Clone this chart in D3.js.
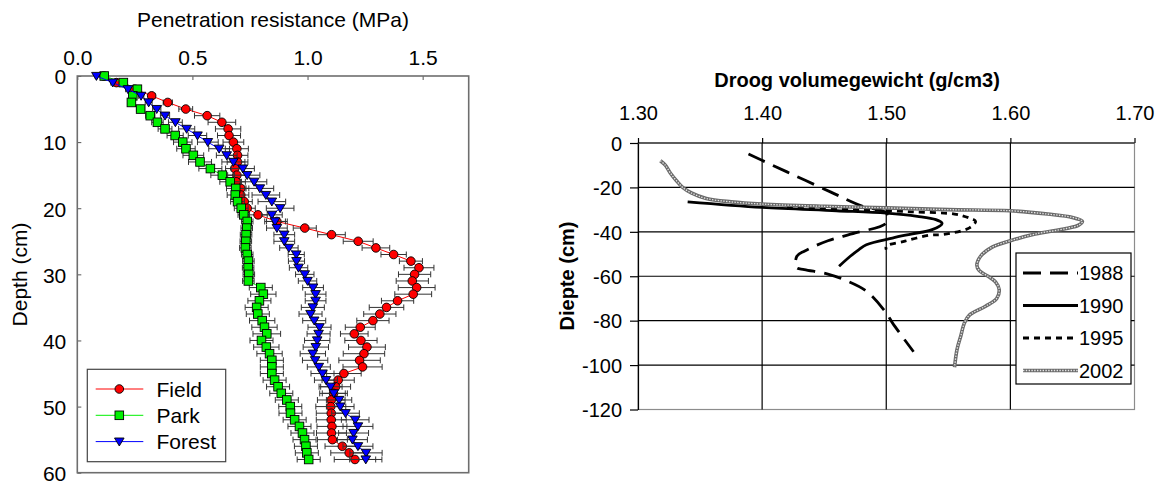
<!DOCTYPE html>
<html>
<head>
<meta charset="utf-8">
<script src="https://cdn.jsdelivr.net/npm/d3@7"></script>
<style>
body { margin: 0; background: #fff; }
text { font-family: "Liberation Sans", Arial, sans-serif; }
</style>
</head>
<body>
<svg id="chart"></svg>
<script>
var width = 1161, height = 483;

// ---- left panel: penetration resistance, one reading per cm ----
var depths = [0,1,2,3,4,5,6,7,8,9,10,11,12,13,14,15,16,17,18,19,20,21,22,23,24,25,26,27,28,29,
  30,31,32,33,34,35,36,37,38,39,40,41,42,43,44,45,46,47,48,49,50,51,52,53,54,55,56,57,58];

var fieldVals = [0.115,0.17,0.25,0.323,0.393,0.471,0.564,0.628,0.655,0.659,
  0.678,0.693,0.696,0.696,0.684,0.693,0.69,0.71,0.71,0.725,
  0.738,0.785,0.867,0.988,1.104,1.22,1.297,1.374,1.449,1.484,
  1.465,1.455,1.474,1.459,1.391,1.343,1.314,1.284,1.229,1.203,
  1.232,1.258,1.245,1.226,1.239,1.158,1.133,1.122,1.113,1.103,
  1.101,1.103,1.103,1.106,1.104,1.108,1.151,1.181,1.206];
var parkVals = [0.117,0.2,0.261,0.241,0.235,0.275,0.317,0.348,0.381,0.425,
  0.458,0.472,0.504,0.533,0.578,0.63,0.664,0.688,0.686,0.696,
  0.712,0.723,0.738,0.736,0.733,0.732,0.73,0.738,0.743,0.742,
  0.745,0.743,0.797,0.808,0.791,0.779,0.784,0.803,0.813,0.823,
  0.8,0.821,0.835,0.845,0.845,0.845,0.857,0.872,0.886,0.91,
  0.925,0.926,0.944,0.965,0.978,0.987,0.993,0.997,1.005];
var forestVals = [0.083,0.154,0.22,0.277,0.31,0.345,0.381,0.426,0.475,0.522,
  0.567,0.616,0.649,0.678,0.719,0.738,0.768,0.793,0.819,0.845,
  0.881,0.845,0.859,0.867,0.899,0.899,0.919,0.951,0.952,0.961,
  0.988,1.0,1.024,1.035,1.035,1.023,1.013,1.029,1.052,1.048,
  1.042,1.036,1.023,1.033,1.049,1.065,1.08,1.1,1.114,1.137,
  1.142,1.165,1.207,1.219,1.2,1.195,1.219,1.254,1.253];

var fieldErr = [0.005,0.008,0.01,0.015,0.02,0.03,0.055,0.06,0.055,0.05,
  0.045,0.05,0.045,0.045,0.04,0.04,0.04,0.035,0.035,0.035,
  0.035,0.04,0.045,0.05,0.06,0.065,0.06,0.055,0.05,0.065,
  0.07,0.07,0.08,0.08,0.07,0.075,0.07,0.07,0.065,0.06,
  0.07,0.08,0.09,0.09,0.085,0.075,0.07,0.065,0.06,0.06,
  0.065,0.065,0.065,0.065,0.065,0.065,0.075,0.08,0.09];
var parkErr = [0.005,0.008,0.01,0.012,0.015,0.018,0.02,0.025,0.03,0.035,
  0.04,0.04,0.045,0.05,0.05,0.05,0.045,0.04,0.035,0.03,
  0.03,0.025,0.025,0.025,0.025,0.025,0.025,0.025,0.025,0.025,
  0.025,0.025,0.05,0.055,0.05,0.05,0.05,0.055,0.055,0.06,
  0.05,0.055,0.055,0.05,0.05,0.05,0.05,0.05,0.05,0.05,
  0.05,0.05,0.05,0.05,0.05,0.05,0.05,0.05,0.05];
var forestErr = [0.005,0.008,0.01,0.012,0.015,0.018,0.02,0.03,0.035,0.04,
  0.045,0.045,0.045,0.05,0.05,0.055,0.055,0.06,0.06,0.06,
  0.06,0.045,0.045,0.045,0.045,0.045,0.04,0.035,0.035,0.04,
  0.04,0.04,0.045,0.045,0.045,0.05,0.05,0.05,0.05,0.05,
  0.055,0.055,0.055,0.055,0.05,0.05,0.05,0.05,0.05,0.055,
  0.06,0.06,0.06,0.065,0.065,0.065,0.065,0.07,0.07];

var leftXTicks = [0, 0.5, 1.0, 1.5];
var leftYTicks = [0, 10, 20, 30, 40, 50, 60];

// ---- right panel: dry bulk density profiles ----
var years = ["1988", "1990", "1995", "2002"];
var dens1988 = [1.389,1.42,1.455,1.481,1.50,1.50,1.475,1.453,1.434,1.428,1.4275,1.434,1.453,1.468,1.484,1.50,1.505,1.522];
var depth1988 = [-5,-13,-22,-28.5,-31.5,-36,-40.5,-44,-48.7,-51,-56,-57,-59,-62,-66.7,-76.5,-81,-94];
var dens1990 = [1.34,1.40,1.46,1.50,1.525,1.54,1.545,1.537,1.52,1.505,1.484,1.478,1.471,1.462];
var depth1990 = [-26.5,-29,-30.5,-31.6,-33,-34.5,-36.2,-39,-41,-42.8,-45.8,-48,-51,-55.5];
var dens1995 = [1.42,1.48,1.52,1.555,1.567,1.572,1.567,1.546,1.535,1.515,1.50,1.50];
var depth1995 = [-29,-30,-31,-32,-33.8,-35.3,-38.2,-41.2,-41.5,-44.2,-46.5,-48];
var dens2002 = [1.318,1.322,1.326,1.331,1.336,1.343,1.355,1.375,1.40,1.45,1.50,1.55,1.60,1.63,1.65,1.658,
  1.655,1.645,1.62,1.60,1.585,1.576,1.573,1.575,1.582,1.588,1.591,1.589,1.58,1.567,1.563,1.56,1.557,1.555];
var depth2002 = [-8,-10,-13.5,-17,-20,-22.5,-25,-26.5,-27.5,-28.5,-29.2,-30,-30.5,-32,-33.5,-35.3,
  -37,-38.5,-41,-44,-47,-51,-55,-57.5,-60,-62.5,-66,-70,-73.5,-77.5,-81,-87,-93,-101];

var rightXTicks = [1.30, 1.40, 1.50, 1.60, 1.70];
var rightYTicks = [0, -20, -40, -60, -80, -100, -120];

var svg = d3.select("#chart").attr("width", width).attr("height", height)
  .style("background", "#fff");

// ======================= LEFT PANEL =======================
var xL = d3.scaleLinear().domain([0, 1.7]).range([77.3, 468.7]);
var yL = d3.scaleLinear().domain([0, 60]).range([76, 472.7]);
var fsL = 21;

svg.append("text").attr("x", 273).attr("y", 26.5).attr("text-anchor", "middle")
  .style("font-size", fsL + "px").text("Penetration resistance (MPa)");
svg.append("text").attr("transform", "translate(27,274.5)rotate(-90)").attr("text-anchor", "middle")
  .style("font-size", fsL + "px").text("Depth (cm)");

var gxL = svg.append("g").attr("transform", "translate(0,76)")
  .call(d3.axisTop(xL).tickValues(leftXTicks).tickFormat(d3.format(".1f")).tickSizeInner(-4).tickSizeOuter(0).tickPadding(11));
var gyL = svg.append("g").attr("transform", "translate(77.3,0)")
  .call(d3.axisLeft(yL).tickValues(leftYTicks).tickFormat(d3.format("d")).tickSizeInner(-4).tickSizeOuter(0).tickPadding(11));
[gxL, gyL].forEach(function (g) {
  g.select(".domain").remove();
  g.selectAll("line").attr("stroke", "#555");
  g.selectAll("text").style("font-size", fsL + "px").attr("fill", "#000").style("font-family", "'Liberation Sans', Arial, sans-serif");
});
gyL.selectAll("text").attr("dy", "0.37em");

// plot frame
svg.append("rect").attr("x", xL(0)).attr("y", yL(0))
  .attr("width", xL(1.7) - xL(0)).attr("height", yL(60) - yL(0))
  .attr("fill", "none").attr("stroke", "#6e6e6e").attr("stroke-width", 1.6);

var leftSeries = [
  { name: "Field", vals: fieldVals, err: fieldErr, color: "#ff0000", shape: "circle" },
  { name: "Park", vals: parkVals, err: parkErr, color: "#00f000", shape: "square" },
  { name: "Forest", vals: forestVals, err: forestErr, color: "#0000ff", shape: "triangle" }
];

function drawMarker(g, shape, color, cx, cy) {
  if (shape === "circle") {
    g.append("circle").attr("cx", cx).attr("cy", cy).attr("r", 4.3)
      .attr("fill", color).attr("stroke", "#000").attr("stroke-width", 0.9);
  } else if (shape === "square") {
    g.append("rect").attr("x", cx - 4.3).attr("y", cy - 4.3).attr("width", 8.6).attr("height", 8.6)
      .attr("fill", color).attr("stroke", "#000").attr("stroke-width", 0.9);
  } else {
    g.append("path").attr("d", "M" + (cx - 4.8) + "," + (cy - 3.6) + "L" + (cx + 4.8) + "," + (cy - 3.6) + "L" + cx + "," + (cy + 4.4) + "Z")
      .attr("fill", color).attr("stroke", "#000").attr("stroke-width", 0.9);
  }
}

var lineL = d3.line().x(function (d) { return xL(d[0]); }).y(function (d) { return yL(d[1]); });

leftSeries.forEach(function (s) {
  var pts = depths.map(function (dp, i) { return [s.vals[i], dp, s.err[i]]; });
  var g = svg.append("g");
  g.append("path").datum(pts).attr("d", lineL).attr("fill", "none")
    .attr("stroke", s.color).attr("stroke-width", 1);
  var eb = g.append("g").attr("stroke", "#333").attr("stroke-width", 1);
  pts.forEach(function (p) {
    var y = yL(p[1]), x0 = xL(p[0] - p[2]), x1 = xL(p[0] + p[2]);
    eb.append("line").attr("x1", x0).attr("x2", x1).attr("y1", y).attr("y2", y);
    eb.append("line").attr("x1", x0).attr("x2", x0).attr("y1", y - 3).attr("y2", y + 3);
    eb.append("line").attr("x1", x1).attr("x2", x1).attr("y1", y - 3).attr("y2", y + 3);
  });
  pts.forEach(function (p) { drawMarker(g, s.shape, s.color, xL(p[0]), yL(p[1])); });
});

// legend (left)
var legL = svg.append("g");
legL.append("rect").attr("x", 87.3).attr("y", 369.3).attr("width", 138.4).attr("height", 92.4)
  .attr("fill", "#fff").attr("stroke", "#444").attr("stroke-width", 1.2);
leftSeries.forEach(function (s, i) {
  var y = 389 + i * 26.3;
  legL.append("line").attr("x1", 95.7).attr("x2", 143.3).attr("y1", y).attr("y2", y)
    .attr("stroke", s.color).attr("stroke-width", 1);
  drawMarker(legL, s.shape, s.color, 119.3, y);
  legL.append("text").attr("x", 156.5).attr("y", y + 7.5).style("font-size", fsL + "px").text(s.name);
});

// ======================= RIGHT PANEL =======================
var xR = d3.scaleLinear().domain([1.3, 1.7]).range([638, 1134.5]);
var yR = d3.scaleLinear().domain([-120, 0]).range([409.5, 143]);
var fsR = 20;

svg.append("text").attr("x", 857).attr("y", 87).attr("text-anchor", "middle")
  .style("font-size", fsR + "px").style("font-weight", "bold").text("Droog volumegewicht (g/cm3)");
svg.append("text").attr("transform", "translate(574,276)rotate(-90)").attr("text-anchor", "middle")
  .style("font-size", fsR + "px").style("font-weight", "bold").text("Diepte (cm)");

// plot area border (grey) then black gridlines
svg.append("rect").attr("x", xR(1.3)).attr("y", yR(0))
  .attr("width", xR(1.7) - xR(1.3)).attr("height", yR(-120) - yR(0))
  .attr("fill", "none").attr("stroke", "#8c8c8c").attr("stroke-width", 1.2);
svg.append("g").selectAll("line").data(rightYTicks.filter(function (d) { return d > -120; })).enter().append("line")
  .attr("x1", xR(1.3)).attr("x2", xR(1.7)).attr("y1", function (d) { return yR(d); }).attr("y2", function (d) { return yR(d); })
  .attr("stroke", "#000").attr("stroke-width", 1.2);
svg.append("g").selectAll("line").data([1.4, 1.5, 1.6]).enter().append("line")
  .attr("x1", function (d) { return xR(d); }).attr("x2", function (d) { return xR(d); })
  .attr("y1", yR(0)).attr("y2", yR(-120))
  .attr("stroke", "#000").attr("stroke-width", 1.2);

var gxR = svg.append("g").attr("transform", "translate(0," + yR(0) + ")")
  .call(d3.axisTop(xR).tickValues(rightXTicks).tickFormat(d3.format(".2f")).tickSizeInner(5).tickSizeOuter(0).tickPadding(18));
var gyR = svg.append("g").attr("transform", "translate(" + xR(1.3) + ",0)")
  .call(d3.axisLeft(yR).tickValues(rightYTicks).tickFormat(function (d) { return String(d); }).tickSizeInner(8).tickSizeOuter(0).tickPadding(8));
[gxR, gyR].forEach(function (g) {
  g.selectAll("line").attr("stroke", "#000").attr("stroke-width", 1.2);
  g.selectAll("text").style("font-size", fsR + "px").attr("fill", "#000").style("font-family", "'Liberation Sans', Arial, sans-serif");
});
gxR.select(".domain").remove();
gyR.select(".domain").attr("stroke", "#000").attr("stroke-width", 1.2);
gyR.selectAll("text").attr("dy", "0.36em");

var rightSeries = [
  { name: "1988", dens: dens1988, depth: depth1988, dash: "18,9" },
  { name: "1990", dens: dens1990, depth: depth1990, dash: null },
  { name: "1995", dens: dens1995, depth: depth1995, dash: "6,5" },
  { name: "2002", dens: dens2002, depth: depth2002, dash: "hatch" }
];

var lineR = d3.line().curve(d3.curveCatmullRom.alpha(0.5))
  .x(function (d) { return xR(d[0]); }).y(function (d) { return yR(d[1]); });

function strokeStyle(sel, s) {
  if (s.dash === "hatch") return;
  sel.attr("stroke", "#000").attr("stroke-width", 2.8).attr("fill", "none");
  if (s.dash) sel.attr("stroke-dasharray", s.dash);
}

rightSeries.forEach(function (s) {
  var pts = s.dens.map(function (v, i) { return [v, s.depth[i]]; });
  if (s.dash === "hatch") {
    svg.append("path").datum(pts).attr("d", lineR).attr("fill", "none")
      .attr("stroke", "#6a6a6a").attr("stroke-width", 3.6);
    svg.append("path").datum(pts).attr("d", lineR).attr("fill", "none")
      .attr("stroke", "#e6e6e6").attr("stroke-width", 1.3).attr("stroke-dasharray", "1.4,1.4");
  } else {
    strokeStyle(svg.append("path").datum(pts).attr("d", lineR), s);
  }
});

// legend (right)
var legR = svg.append("g");
legR.append("rect").attr("x", 1016).attr("y", 253).attr("width", 115).attr("height", 131)
  .attr("fill", "#fff").attr("stroke", "#000").attr("stroke-width", 1.2);
rightSeries.forEach(function (s, i) {
  var y = 273 + i * 32.5;
  if (s.dash === "hatch") {
    legR.append("line").attr("x1", 1023).attr("x2", 1078).attr("y1", y).attr("y2", y)
      .attr("stroke", "#6a6a6a").attr("stroke-width", 3.6);
    legR.append("line").attr("x1", 1023).attr("x2", 1078).attr("y1", y).attr("y2", y)
      .attr("stroke", "#e6e6e6").attr("stroke-width", 1.3).attr("stroke-dasharray", "1.4,1.4");
  } else {
    strokeStyle(legR.append("line").attr("x1", 1023).attr("x2", 1078).attr("y1", y).attr("y2", y), s);
  }
  legR.append("text").attr("x", 1079).attr("y", y + 7.2).style("font-size", fsR + "px").text(s.name);
});
</script>
</body>
</html>
